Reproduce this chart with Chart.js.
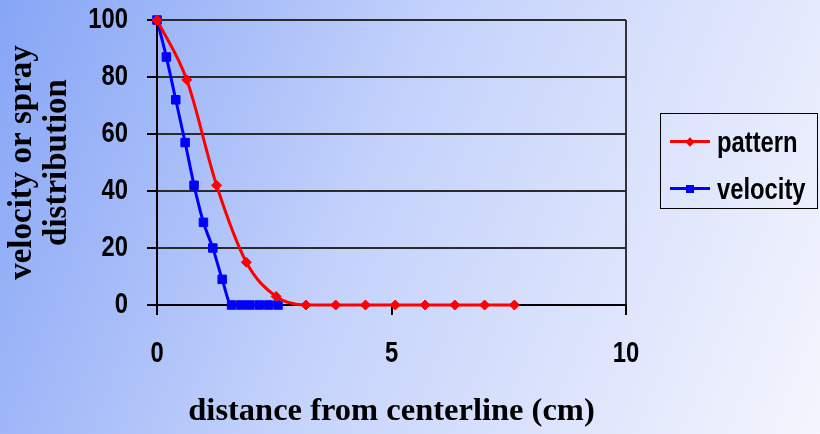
<!DOCTYPE html>
<html><head><meta charset="utf-8">
<script src="https://cdn.jsdelivr.net/npm/chart.js@4.4.1/dist/chart.umd.min.js"></script>
<style>
html,body{margin:0;padding:0;}
body{width:820px;height:434px;overflow:hidden;position:relative;
 background:linear-gradient(112deg,#86a5f6 0%,#c4d2fb 45%,#f4f5fd 100%);}
#c{position:absolute;left:0;top:0;}
#legend{position:absolute;left:660px;top:113px;width:158px;height:96px;border:1.5px solid #000;box-sizing:border-box;
 font:bold 29px "Liberation Sans",Arial,sans-serif;color:#000;}
.item{position:absolute;left:0;width:158px;height:34px;}
.ln{position:absolute;left:9px;width:40px;height:3px;top:15px;}
.mk{position:absolute;width:8px;height:8px;left:25px;top:12.5px;}
.tx{position:absolute;left:56px;top:0;line-height:34px;white-space:nowrap;transform:scaleX(0.82);transform-origin:0 50%;}
</style></head>
<body>
<canvas id="c" width="820" height="434"></canvas>
<div id="legend"></div>
<script>
const seriesNames = ['pattern', 'velocity'];
const patternX = [0, 0.635, 1.27, 1.905, 2.54, 3.175, 3.81, 4.445, 5.08, 5.715, 6.35, 6.985, 7.62];
const patternY = [100, 79, 42, 15, 3, 0, 0, 0, 0, 0, 0, 0, 0];
const velocityX = [0, 0.2, 0.4, 0.6, 0.79, 0.99, 1.19, 1.39, 1.59, 1.79, 1.98, 2.18, 2.38, 2.58];
const velocityY = [100, 87, 72, 57, 42, 29, 20, 9, 0, 0, 0, 0, 0, 0];
const xTicks = [0, 5, 10];
const yTicks = [0, 20, 40, 60, 80, 100];
const xTitle = 'distance from centerline (cm)';
const yTitle = ['velocity or spray', 'distribution'];

const sans = '"Liberation Sans",Arial,sans-serif';
const serif = '"Liberation Serif","Times New Roman",serif';

// draw the sans-serif labels horizontally condensed (like Arial Narrow)
const narrowText = {
  id: 'narrowText',
  beforeDraw(chart) {
    const ctx = chart.ctx;
    if (ctx.__narrow) return;
    ctx.__narrow = true;
    const orig = ctx.fillText.bind(ctx);
    ctx.fillText = function (text, x, y, maxWidth) {
      if (String(this.font).indexOf('Liberation Sans') >= 0) {
        this.save();
        this.translate(x, y);
        this.scale(0.82, 1);
        orig(text, 0, 0);
        this.restore();
      } else if (maxWidth !== undefined) {
        orig(text, x, y, maxWidth);
      } else {
        orig(text, x, y);
      }
    };
  }
};

const toPts = (xs, ys) => xs.map((x, i) => ({x, y: ys[i]}));
const colors = ['#ff0000', '#0000ff'];
const styles = ['rectRot', 'rect'];

const chart = new Chart(document.getElementById('c'), {
  type: 'scatter',
  plugins: [narrowText],
  data: {
    datasets: [
      {label: seriesNames[0], data: toPts(patternX, patternY), showLine: true,
       borderColor: colors[0], backgroundColor: colors[0], borderWidth: 3,
       pointStyle: styles[0], pointRadius: 5, pointBorderWidth: 1,
       cubicInterpolationMode: 'monotone', clip: false},
      {label: seriesNames[1], data: toPts(velocityX, velocityY), showLine: true,
       borderColor: colors[1], backgroundColor: colors[1], borderWidth: 3,
       pointStyle: styles[1], pointRadius: 6, pointBorderWidth: 1,
       cubicInterpolationMode: 'monotone', clip: false}
    ]
  },
  options: {
    responsive: false, animation: false, events: [],
    layout: {padding: {left: 0, top: 20, right: 194, bottom: 0}},
    plugins: {legend: {display: false}, tooltip: {enabled: false}},
    scales: {
      x: {
        type: 'linear', min: xTicks[0], max: xTicks[xTicks.length - 1],
        afterBuildTicks: s => { s.ticks = xTicks.map(v => ({value: v})); },
        afterFit: s => { s.height = 129; s.paddingLeft = 0; s.paddingRight = 0; },
        ticks: {color: '#000', padding: 22, maxRotation: 0,
                font: {family: sans, weight: 'bold', size: 29}},
        grid: {color: c => (c.tick && c.tick.value === 10) ? '#333' : 'rgba(0,0,0,0)',
               lineWidth: 2, tickColor: '#000', tickLength: 10, tickWidth: 2},
        border: {color: '#000', width: 2},
        title: {display: true, text: xTitle, color: '#000',
                font: {family: serif, weight: 'bold', size: 32.5, lineHeight: 1.2},
                padding: {top: 0, bottom: 3}}
      },
      y: {
        type: 'linear', min: yTicks[0], max: yTicks[yTicks.length - 1],
        afterBuildTicks: s => { s.ticks = yTicks.map(v => ({value: v})); },
        afterFit: s => { s.width = 157; s.paddingTop = 0; s.paddingBottom = 0; },
        ticks: {color: '#000', padding: 19,
                font: {family: sans, weight: 'bold', size: 29}},
        grid: {color: '#2b2b2b', lineWidth: 2, tickColor: '#000', tickLength: 10, tickWidth: 2},
        border: {color: '#000', width: 2},
        title: {display: true, text: yTitle, color: '#000',
                font: {family: serif, weight: 'bold', size: 33, lineHeight: 1.06},
                padding: {top: 4.5, bottom: 0}}
      }
    }
  }
});

// HTML legend built from the datasets
const leg = document.getElementById('legend');
chart.data.datasets.forEach((ds, i) => {
  const it = document.createElement('div');
  it.className = 'item';
  it.style.top = (11 + i * 47) + 'px';
  const ln = document.createElement('div'); ln.className = 'ln'; ln.style.background = ds.borderColor;
  const mk = document.createElement('div'); mk.className = 'mk'; mk.style.background = ds.borderColor;
  if (ds.pointStyle === 'rectRot') mk.style.transform = 'rotate(45deg) scale(0.85)';
  const tx = document.createElement('div'); tx.className = 'tx'; tx.textContent = ds.label;
  it.appendChild(ln); it.appendChild(mk); it.appendChild(tx);
  leg.appendChild(it);
});
</script>
</body></html>
